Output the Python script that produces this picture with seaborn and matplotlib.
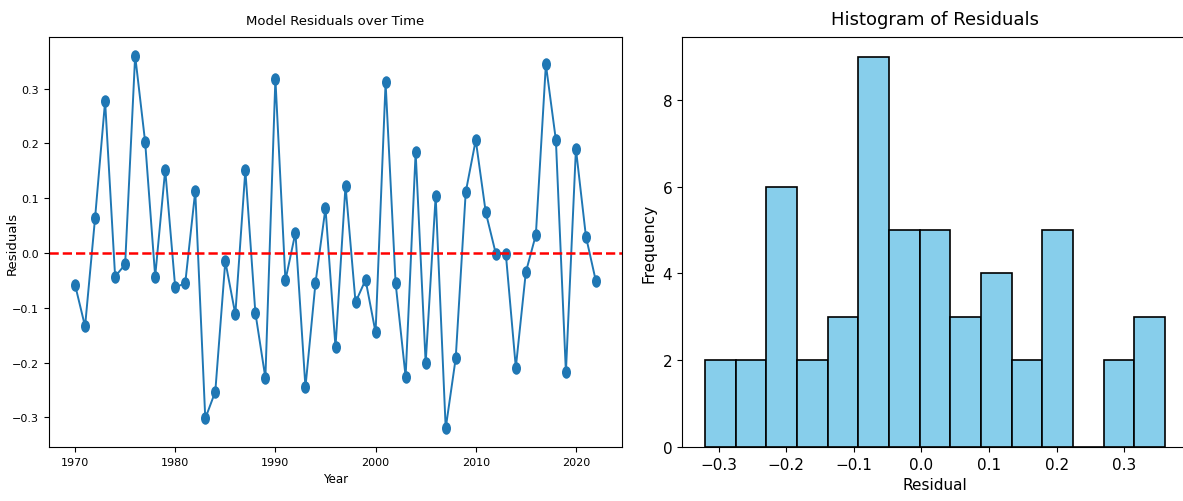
import numpy as np
import pandas as pd
import seaborn as sns
import matplotlib.pyplot as plt
from matplotlib.markers import MarkerStyle
from matplotlib.transforms import Affine2D

# residuals, one per year
years = list(range(1970, 2023))
residuals = [
    -0.058, -0.134, 0.064, 0.277, -0.043, -0.021, 0.360, 0.202, -0.043, 0.152,
    -0.063, -0.055, 0.113, -0.302, -0.253, -0.015, -0.112, 0.151, -0.109, -0.228,
    0.318, -0.050, 0.037, -0.245, -0.055, 0.082, -0.172, 0.123, -0.090, -0.049,
    -0.145, 0.311, -0.055, -0.226, 0.184, -0.201, 0.104, -0.320, -0.192, 0.111,
    0.206, 0.074, -0.001, -0.001, -0.209, -0.035, 0.033, 0.344, 0.206, -0.218,
    0.190, 0.030, -0.052,
]
df = pd.DataFrame({'Year': years, 'Residual': residuals})

fig = plt.figure(figsize=(11.83, 5.02), dpi=100)
ax1 = fig.add_axes([49 / 1183, 54 / 502, 573 / 1183, 410 / 502])
ax2 = fig.add_axes([682 / 1183, 54 / 502, 506 / 1183, 410 / 502])

# left: residuals over time
mk = MarkerStyle('o', transform=Affine2D().scale(0.72, 1.0))
sns.lineplot(data=df, x='Year', y='Residual', ax=ax1, marker=mk, markersize=9,
             markeredgewidth=0, color='#1f77b4', linewidth=1.4)
ax1.axhline(0, color='red', linestyle='--', linewidth=1.8)
ax1.set_title('Model Residuals over Time', fontsize=9.5, pad=9)
ax1.set_xlabel('Year', fontsize=8.5)
ax1.set_ylabel('Residuals', fontsize=9.5)
ax1.yaxis.set_label_coords(-0.053, 0.5)
ax1.tick_params(labelsize=8)

# right: histogram
sns.histplot(x=df['Residual'], bins=15, color='skyblue', edgecolor='black',
             alpha=1, linewidth=1.2, ax=ax2)
ax2.set_title('Histogram of Residuals', fontsize=13, pad=9)
ax2.set_xlabel('Residual', fontsize=11)
ax2.set_ylabel('Frequency', fontsize=11)
ax2.tick_params(labelsize=11)

fig.savefig('out.png', dpi=100)
